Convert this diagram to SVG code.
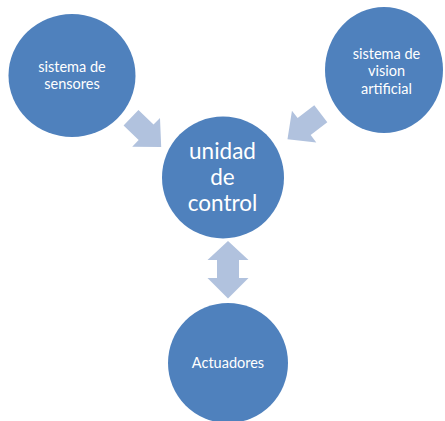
<svg xmlns="http://www.w3.org/2000/svg" width="445" height="421" viewBox="0 0 445 421">
<defs>
<style>
.node{fill:#4F81BD}
.arrow{fill:#B1C2DE}
.t{fill:#FFFFFF;font-family:Lato,"Open Sans","Liberation Sans",sans-serif;text-anchor:middle}
.s{font-size:14.5px}
.b{font-size:22.5px}
</style>
<polygon id="arr" points="0,-10.7 21,-10.7 21,-20 42,0 21,20 21,10.7 0,10.7"/>
</defs>
<rect width="445" height="421" fill="#FFFFFF"/>
<g id="connectors">
<use href="#arr" class="arrow" transform="translate(131,117.7) rotate(44)"/>
<use href="#arr" class="arrow" transform="translate(320.8,113.8) rotate(142.5)"/>
<polygon class="arrow" points="228,241 248.5,260 239,260 239,278 248.5,278 228,298.5 207.5,278 217,278 217,260 207.5,260"/>
</g>
<g id="sensores">
<ellipse class="node" cx="72" cy="75.5" rx="63.5" ry="61.5"/>
<text class="t s" x="72" y="72">sistema de</text>
<text class="t s" x="72" y="88.5">sensores</text>
</g>
<g id="vision">
<ellipse class="node" cx="384" cy="70" rx="59" ry="63"/>
<text class="t s" x="386.5" y="58.5">sistema de</text>
<text class="t s" x="386.5" y="76">vision</text>
<text class="t s" x="386.5" y="93.5">artificial</text>
</g>
<g id="control">
<circle class="node" cx="223" cy="177.5" r="61"/>
<text class="t b" x="222.5" y="159">unidad</text>
<text class="t b" x="222.5" y="185">de</text>
<text class="t b" x="222.5" y="210.5">control</text>
</g>
<g id="actuadores">
<circle class="node" cx="228" cy="363" r="60"/>
<text class="t s" x="228" y="367.5">Actuadores</text>
</g>
</svg>
